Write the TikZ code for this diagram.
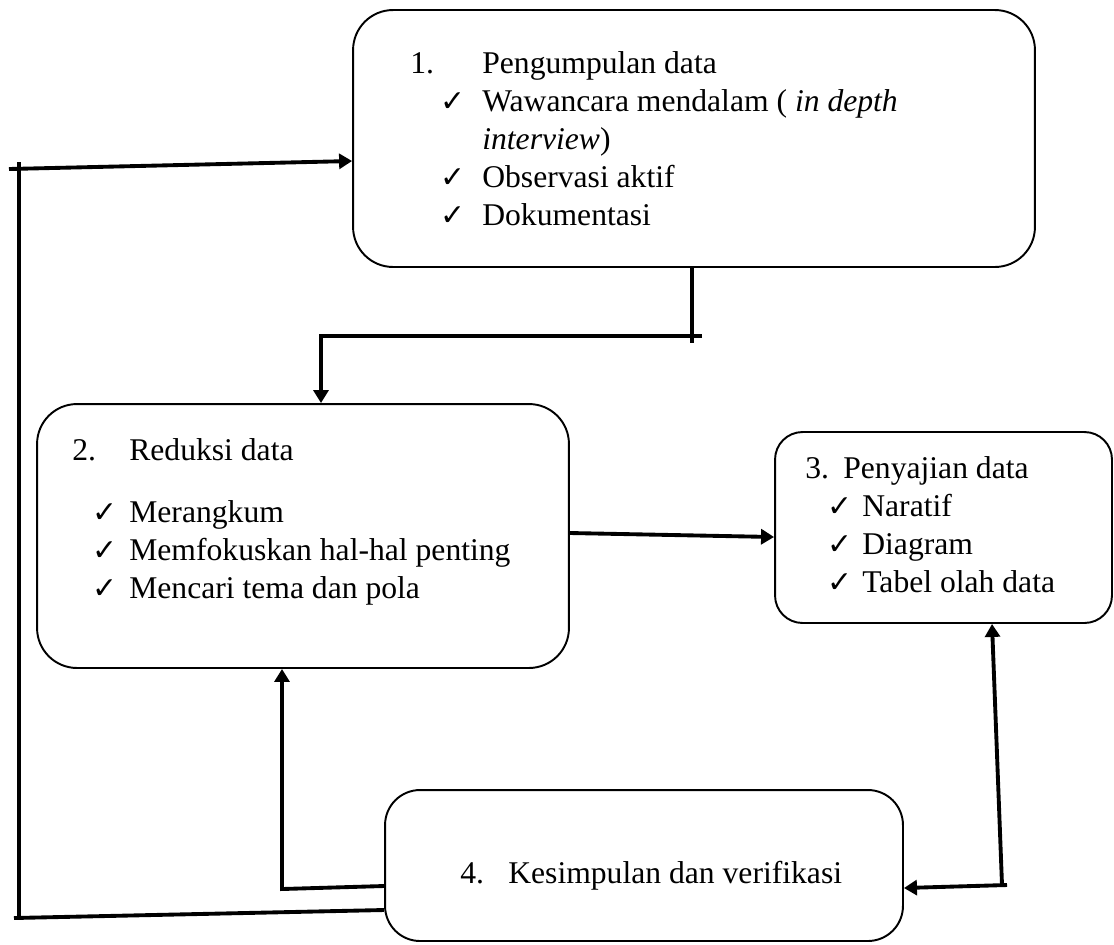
\documentclass[tikz,border=0pt]{standalone}
\usepackage{fontspec}
\setmainfont{Liberation Serif}
\newfontfamily\chkfont{DejaVu Sans}
\usetikzlibrary{arrows.meta,positioning,calc}
\newcommand{\chk}{{\chkfont\fontsize{17}{17}\selectfont ✓}}

\begin{document}
\begin{tikzpicture}[x=0.02cm,y=-0.02cm,
  stage/.style={draw,line width=1.1pt,inner sep=0pt},
  lbl/.style={anchor=north west,align=left,inner sep=0pt,
              font=\fontsize{18}{21.6}\selectfont},
  conn/.style={line width=2.2pt},
  arr/.style={conn,-{Triangle[length=0.26cm,width=0.3cm]}},
]
\useasboundingbox (0,0) rectangle (1114,944);
% stages
\node[stage,rounded corners=0.8cm,minimum width=13.64cm,minimum height=5.14cm] (s1) at (694,138.5) {};
\node[stage,rounded corners=0.8cm,minimum width=10.64cm,minimum height=5.28cm] (s2) at (303,536) {};
\node[stage,rounded corners=0.55cm,minimum width=6.74cm,minimum height=3.82cm] (s3) at (943.5,527.5) {};
\node[stage,rounded corners=0.7cm,minimum width=10.36cm,minimum height=3.02cm] (s4) at (644,865.5) {};
% texts
\node[lbl] (t1) at (410,51)
  {\makebox[1.44cm][l]{1.}Pengumpulan data\\
   \hspace*{0.6cm}\makebox[0.84cm][l]{\chk}Wawancara mendalam ( \textit{in depth}\\
   \hspace*{1.44cm}\textit{interview})\\
   \hspace*{0.6cm}\makebox[0.84cm][l]{\chk}Observasi aktif\\
   \hspace*{0.6cm}\makebox[0.84cm][l]{\chk}Dokumentasi};
\node[lbl] (t2) at (72,438)
  {\makebox[1.14cm][l]{2.}Reduksi data\\[0.48cm]
   \hspace*{0.4cm}\makebox[0.74cm][l]{\chk}Merangkum\\
   \hspace*{0.4cm}\makebox[0.74cm][l]{\chk}Memfokuskan hal-hal penting\\
   \hspace*{0.4cm}\makebox[0.74cm][l]{\chk}Mencari tema dan pola};
\node[lbl] (t3) at (805,456)
  {\makebox[0.76cm][l]{3.}Penyajian data\\
   \hspace*{0.44cm}\makebox[0.7cm][l]{\chk}Naratif\\
   \hspace*{0.44cm}\makebox[0.7cm][l]{\chk}Diagram\\
   \hspace*{0.44cm}\makebox[0.7cm][l]{\chk}Tabel olah data};
\node[lbl] (t4) at (460,861)
  {\makebox[0.96cm][l]{4.}Kesimpulan dan verifikasi};
% connectors
\coordinate (j1) at (692,336);
\coordinate (k1) at (321,336);
\draw[conn] (s1.south -| j1) -- ($(j1)+(0,7)$);
\draw[arr] ($(j1)+(10,0)$) -- (k1) -- (k1 |- s2.north);
\draw[arr] ($(s2.east)+(0,-3)$) -- ($(s3.west)+(0,9.5)$);
\coordinate (c2) at (282,889);
\draw[arr] ($(s4.west)+(0,20.5)$) -- (c2) -- (c2 |- s2.south);
\coordinate (c3) at (19,918);
\coordinate (c4) at (19,169);
\draw[conn] ($(s4.west)+(0,44.5)$) -- ($(c3)+(-5,0)$);
\draw[conn] (c3) -- ($(c4)+(0,-7)$);
\draw[arr] ($(c4)+(-10,0)$) -- ($(s1.west)+(0,22.5)$);
\coordinate (c5) at (1002,885);
\draw[arr] (c5) -- ($(s3.south)+(48.5,0)$);
\draw[arr] ($(c5)+(5,0)$) -- ($(s4.east)+(0,22.5)$);
\end{tikzpicture}
\end{document}
